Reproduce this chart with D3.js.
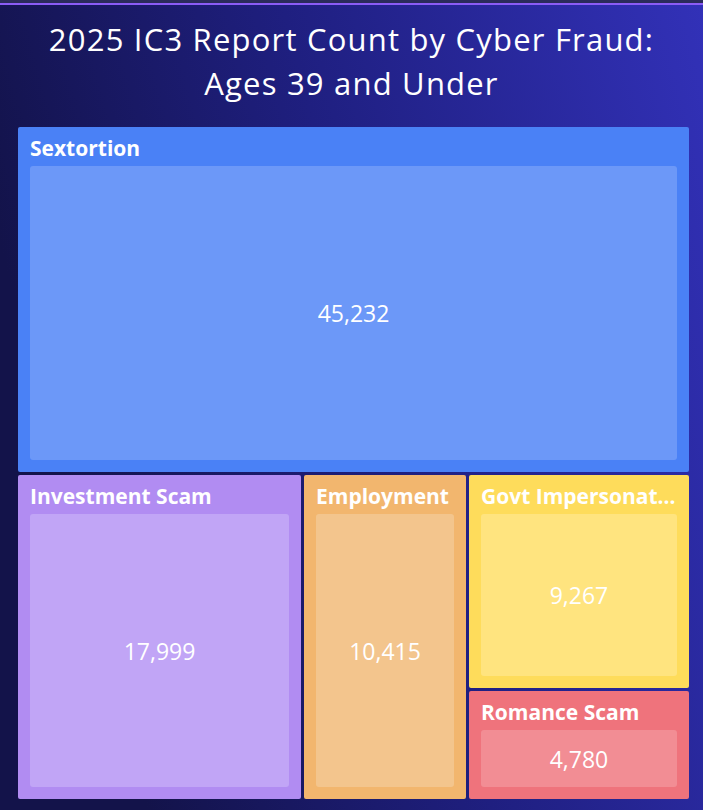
<!doctype html>
<html>
<head>
  <style type="text/css">
    body { margin: 0; }
    svg { display: block; }
    .title { font-family: "Open Sans", sans-serif; font-size: 31px; letter-spacing: 1.2px; fill: #fff; }
    .label { font-family: "Open Sans", sans-serif; font-weight: bold; font-size: 21px; fill: #fff; }
    .value { font-family: "Open Sans", sans-serif; font-size: 23px; fill: #fff; }
  </style>
  <title>IC3 Treemap</title>
</head>
<body>
<svg class="chart"></svg>

<script type="text/javascript" src="https://cdnjs.cloudflare.com/ajax/libs/d3/7.8.5/d3.min.js"></script>
<script type="text/javascript">

var outerWidth = 703,
    outerHeight = 810,
    margin = { top: 127, right: 14, bottom: 12, left: 18 },
    mapWidth = outerWidth - margin.left - margin.right,
    mapHeight = outerHeight - margin.top - margin.bottom + 1;

// data
var categories = ["Sextortion", "Investment Scam", "Employment", "Govt Impersonation", "Romance Scam"];
var counts = [45232, 17999, 10415, 9267, 4780];
var outerColors = ["#4a81f6", "#b18cf2", "#f2b66e", "#fedc5b", "#ef737c"];
var innerColors = ["#6c98f8", "#c1a5f6", "#f3c58d", "#ffe47f", "#f28d94"];
var titleLines = ["2025 IC3 Report Count by Cyber Fraud:", "Ages 39 and Under"];

var svg = d3.select(".chart")
  .attr("width", outerWidth)
  .attr("height", outerHeight);

// background
var defs = svg.append("defs");
var grad = defs.append("linearGradient")
  .attr("id", "bg")
  .attr("x1", "0%").attr("y1", "30%")
  .attr("x2", "100%").attr("y2", "0%");
grad.append("stop").attr("offset", "0%").attr("stop-color", "#13134a");
grad.append("stop").attr("offset", "45%").attr("stop-color", "#1f1f80");
grad.append("stop").attr("offset", "100%").attr("stop-color", "#3231b8");

svg.append("rect")
  .attr("width", outerWidth).attr("height", outerHeight)
  .attr("fill", "url(#bg)");

svg.append("rect")
  .attr("width", outerWidth).attr("height", 3)
  .attr("fill", "#2b2b5c");
svg.append("rect")
  .attr("y", 3).attr("width", outerWidth).attr("height", 2)
  .attr("fill", "#8b5cf6");

// title
svg.append("g").selectAll("text")
  .data(titleLines)
  .join("text")
  .attr("class", "title")
  .attr("x", outerWidth / 2)
  .attr("y", function(d, i) { return 51 + i * 44; })
  .attr("text-anchor", "middle")
  .text(function(d) { return d; });

// treemap
var root = d3.hierarchy({
    children: categories.map(function(c, i) {
      return { name: c, value: counts[i], outer: outerColors[i], inner: innerColors[i] };
    })
  })
  .sum(function(d) { return d.value || 0; })
  .sort(function(a, b) { return b.value - a.value; });

d3.treemap()
  .tile(d3.treemapSquarify.ratio(1))
  .size([mapWidth, mapHeight])
  .paddingInner(3)
  .round(true)(root);

var chart = svg.append("g")
  .attr("transform", "translate(" + margin.left + "," + margin.top + ")");

var fmt = d3.format(",");

var cells = chart.selectAll("g.cell")
  .data(root.leaves())
  .join("g")
  .attr("class", "cell")
  .attr("transform", function(d) { return "translate(" + d.x0 + "," + d.y0 + ")"; });

cells.append("rect")
  .attr("width", function(d) { return d.x1 - d.x0; })
  .attr("height", function(d) { return d.y1 - d.y0; })
  .attr("rx", 2)
  .attr("fill", function(d) { return d.data.outer; });

cells.append("rect")
  .attr("x", 12)
  .attr("y", 39)
  .attr("width", function(d) { return d.x1 - d.x0 - 24; })
  .attr("height", function(d) { return d.y1 - d.y0 - 51; })
  .attr("rx", 3)
  .attr("fill", function(d) { return d.data.inner; });

cells.append("text")
  .attr("class", "label")
  .attr("x", 12)
  .attr("y", 29)
  .text(function(d) { return d.data.name; })
  .each(function(d) {
    var el = d3.select(this),
        maxW = d.x1 - d.x0 - 24,
        name = d.data.name;
    if (this.getComputedTextLength() <= maxW) return;
    while (name.length > 1) {
      name = name.slice(0, -1);
      el.text(name + "...");
      if (this.getComputedTextLength() <= maxW) break;
    }
  });

cells.append("text")
  .attr("class", "value")
  .attr("x", function(d) { return (d.x1 - d.x0) / 2; })
  .attr("y", function(d) { return 39 + (d.y1 - d.y0 - 51) / 2; })
  .attr("text-anchor", "middle")
  .attr("dominant-baseline", "central")
  .text(function(d) { return fmt(d.value); });

</script>
</body>
</html>
